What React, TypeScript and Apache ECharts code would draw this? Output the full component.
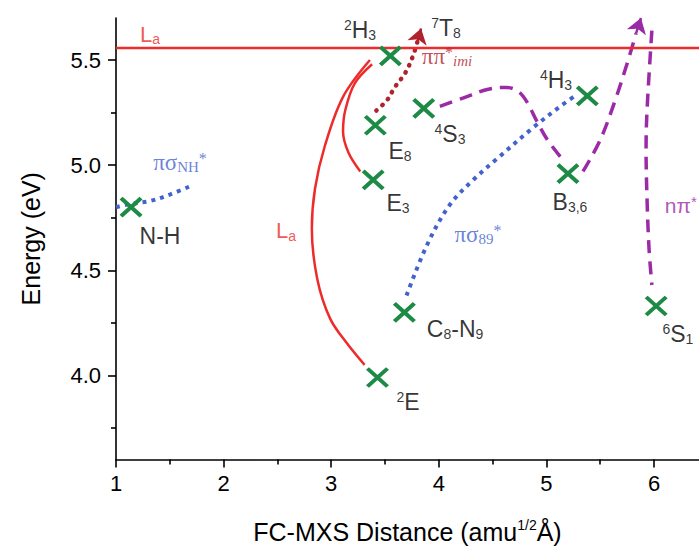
import React, { useEffect, useRef } from 'react';
import * as echarts from 'echarts';

// ---- axes ----
const X_MIN = 1;
const X_MAX = 6.418;
const Y_MIN = 3.6;
const Y_MAX = 5.7;
const xMajor = [1, 2, 3, 4, 5, 6];
const xMinor = [1.5, 2.5, 3.5, 4.5, 5.5];
const yMajor = [4.0, 4.5, 5.0, 5.5];
const yMinor = [3.75, 4.25, 4.75, 5.25];

// ---- states (green crosses) ----
const stateNames = ['N-H', '2H3', 'E8', 'E3', '4S3', '4H3', 'B3,6', 'C8-N9', '2E', '6S1'];
const stateX = [1.14, 3.55, 3.41, 3.39, 3.86, 5.38, 5.20, 3.68, 3.43, 6.02];
const stateY = [4.80, 5.52, 5.19, 4.93, 5.27, 5.33, 4.96, 4.30, 3.99, 4.33];

// ---- La level ----
const laLevel = 5.56;

// ---- curves ----
const piSigmaNH = [[1.0, 4.80], [1.13, 4.815], [1.32, 4.83], [1.50, 4.86], [1.69, 4.90]];
const laOuter = [[3.36, 5.50], [3.11, 5.325], [2.94, 5.09], [2.85, 4.89], [2.82, 4.70], [2.87, 4.46], [2.99, 4.27], [3.15, 4.15], [3.31, 4.05]];
const laInner = [[3.38, 5.48], [3.22, 5.39], [3.13, 5.26], [3.11, 5.16], [3.16, 5.06], [3.27, 4.97]];
const piPiImi = [[3.42, 5.26], [3.52, 5.31], [3.59, 5.37], [3.69, 5.44], [3.76, 5.52], [3.80, 5.585], [3.835, 5.65]];
const piSigma89 = [[3.70, 4.38], [3.89, 4.62], [4.10, 4.81], [4.32, 4.93], [4.54, 5.03], [4.88, 5.18], [5.13, 5.28], [5.28, 5.335]];
const nPiHump = [[4.01, 5.28], [4.23, 5.32], [4.45, 5.36], [4.63, 5.37], [4.74, 5.35], [4.82, 5.30], [4.91, 5.21], [5.01, 5.12], [5.13, 5.04]];
const nPiRise = [[5.34, 4.97], [5.50, 5.12], [5.64, 5.31], [5.76, 5.50], [5.833, 5.627], [5.879, 5.70]];
const nPiDrop = [[5.98, 5.64], [5.935, 5.26], [5.926, 5.075], [5.935, 4.84], [5.954, 4.60], [5.98, 4.43]];

// ---- annotation texts ----
const labelText = [
  '{r|L}{rs|a}',
  '{kp|2}{k|H}{ks|3}',
  '{kp|7}{k|T}{ks|8}',
  '{d|ππ}{dp|*}{di|imi}',
  '{kp|4}{k|H}{ks|3}',
  '{k|E}{ks|8}',
  '{kp|4}{k|S}{ks|3}',
  '{k|E}{ks|3}',
  '{k|B}{ks|3,6}',
  '{b|πσ}{bs|NH}{bp|*}',
  '{k|N-H}',
  '{r|L}{rs|a}',
  '{b|πσ}{bs|89}{bp|*}',
  '{p|nπ}{pp|*}',
  '{k|C}{ks|8}{k|-N}{ks|9}',
  '{kp|6}{k|S}{ks|1}',
  '{kp|2}{k|E}',
];
const labelX = [1.316, 3.268, 4.067, 4.076, 5.089, 3.639, 4.104, 3.621, 5.219, 1.595, 1.409, 2.58, 4.364, 6.095, 4.151, 6.074, 3.714];
const labelY = [5.623, 5.642, 5.651, 5.519, 5.406, 5.066, 5.146, 4.821, 4.825, 5.014, 4.665, 4.689, 4.670, 4.807, 4.222, 4.198, 3.873];
const labelLeftAligned = [false, false, false, false, false, false, false, false, false, false, false, false, false, true, false, true, false];

const RED = '#ee2b2b';
const GREEN = '#1d8a45';
const BLUE = '#4262cf';
const PURPLE = '#9b2aa6';
const DARKRED = '#b0222c';
const SANS = '"Liberation Sans", Arial, Helvetica, sans-serif';
const SERIF = '"Liberation Serif", "Times New Roman", serif';

function smoothLine(data: number[][], color: string, width: number, type: any, cap: string = 'butt') {
  return {
    type: 'line',
    data,
    smooth: 0.35,
    symbol: 'none',
    clip: false,
    silent: true,
    z: 2,
    lineStyle: { color, width, type, cap },
  };
}

function arrowHead(data: number[][], color: string) {
  return {
    type: 'lines',
    coordinateSystem: 'cartesian2d',
    clip: false,
    silent: true,
    z: 3,
    symbol: ['none', 'arrow'],
    symbolSize: 15,
    lineStyle: { color, width: 2.5, opacity: 1, curveness: 0 },
    data: [{ coords: data.slice(-2) }],
  };
}

function sub(color: string, family: string, extra: any = {}) {
  return { fontSize: 14, fontFamily: family, color, verticalAlign: 'bottom', lineHeight: 6, ...extra };
}
function sup(color: string, family: string, extra: any = {}) {
  return { fontSize: 14, fontFamily: family, color, verticalAlign: 'top', lineHeight: 6, ...extra };
}

const rich: any = {
  k: { fontSize: 23, fontFamily: SANS, color: '#000', lineHeight: 24 },
  ks: sub('#000', SANS),
  kp: sup('#000', SANS),
  r: { fontSize: 22, fontFamily: SANS, color: RED, lineHeight: 24 },
  rs: sub(RED, SANS),
  b: { fontSize: 23, fontFamily: SERIF, color: BLUE, lineHeight: 24 },
  bs: sub(BLUE, SERIF, { fontSize: 15 }),
  bp: sup(BLUE, SERIF, { fontSize: 16 }),
  d: { fontSize: 23, fontFamily: SERIF, color: DARKRED, lineHeight: 24 },
  dp: sup(DARKRED, SERIF, { fontSize: 16 }),
  di: sub(DARKRED, SERIF, { fontStyle: 'italic', fontSize: 15 }),
  p: { fontSize: 21, fontFamily: SANS, color: PURPLE, lineHeight: 24 },
  pp: sup(PURPLE, SANS, { fontSize: 15 }),
};

export default function App() {
  const ref = useRef<HTMLDivElement>(null);
  useEffect(() => {
    if (!ref.current) return;
    const chart = echarts.init(ref.current, null, { renderer: 'svg' });
    const axisLineStyle = { color: '#000', width: 1.6 };
    const option: any = {
      animation: false,
      backgroundColor: '#fff',
      grid: { left: 116, right: 0, top: 18, bottom: 87, containLabel: false },
      xAxis: [
        {
          type: 'value', min: X_MIN, max: X_MAX, position: 'bottom',
          axisLine: { show: true, lineStyle: axisLineStyle },
          axisTick: { show: true, customValues: xMajor, length: 8, lineStyle: axisLineStyle },
          axisLabel: { customValues: xMajor, fontSize: 22, color: '#000', margin: 13, fontFamily: SANS, formatter: (v: number) => String(Math.round(v)) },
          splitLine: { show: false },
          name: '{n|FC-MXS Distance (amu}{s|1/2}{n|Å)}',
          nameLocation: 'middle',
          nameGap: 58,
          nameTextStyle: {
            rich: {
              n: { fontSize: 25, fontFamily: SANS, color: '#000', lineHeight: 28 },
              s: { fontSize: 14, fontFamily: SANS, color: '#000', verticalAlign: 'top', lineHeight: 8 },
            },
          },
        },
        {
          type: 'value', min: X_MIN, max: X_MAX, position: 'bottom',
          axisLine: { show: false },
          axisTick: { show: true, customValues: xMinor, length: 5, lineStyle: axisLineStyle },
          axisLabel: { show: false },
          splitLine: { show: false },
        },
      ],
      yAxis: [
        {
          type: 'value', min: Y_MIN, max: Y_MAX, position: 'left',
          axisLine: { show: true, lineStyle: axisLineStyle },
          axisTick: { show: true, customValues: yMajor, length: 8, lineStyle: axisLineStyle },
          axisLabel: { customValues: yMajor, fontSize: 22, color: '#000', margin: 15, fontFamily: SANS, formatter: (v: number) => v.toFixed(1) },
          splitLine: { show: false },
          name: 'Energy (eV)',
          nameLocation: 'middle',
          nameGap: 73,
          nameTextStyle: { fontSize: 25, fontFamily: SANS, color: '#000' },
        },
        {
          type: 'value', min: Y_MIN, max: Y_MAX, position: 'left',
          axisLine: { show: false },
          axisTick: { show: true, customValues: yMinor, length: 5, lineStyle: axisLineStyle },
          axisLabel: { show: false },
          splitLine: { show: false },
        },
      ],
      series: [
        {
          type: 'line', data: [], symbol: 'none', silent: true,
          markLine: {
            silent: true, symbol: 'none', label: { show: false },
            lineStyle: { color: RED, width: 2.4, type: 'solid' },
            data: [{ yAxis: laLevel }],
          },
        },
        smoothLine(piSigmaNH, BLUE, 4, [4, 5]),
        smoothLine(laOuter, RED, 2.5, 'solid'),
        smoothLine(laInner, RED, 2.5, 'solid'),
        smoothLine(piPiImi.slice(0, -1), DARKRED, 4.5, [0.5, 7.5], 'round'),
        arrowHead(piPiImi, DARKRED),
        smoothLine(piSigma89, BLUE, 4, [4, 5]),
        smoothLine(nPiHump, PURPLE, 3.5, [13, 8]),
        smoothLine(nPiRise.slice(0, -1), PURPLE, 3.5, [13, 8]),
        arrowHead(nPiRise, PURPLE),
        smoothLine(nPiDrop, PURPLE, 3.5, [13, 8]),
        {
          type: 'scatter',
          name: 'states',
          data: stateX.map((x, i) => ({ value: [x, stateY[i]], name: stateNames[i] })),
          symbol: 'path://M0,0L20,20M20,0L0,20',
          symbolSize: [20, 18],
          itemStyle: { color: 'rgba(0,0,0,0)', borderColor: GREEN, borderWidth: 4, opacity: 1 },
          silent: true,
          z: 5,
        },
        {
          type: 'scatter',
          name: 'labels',
          symbolSize: 1,
          itemStyle: { color: 'rgba(0,0,0,0)' },
          silent: true,
          z: 6,
          data: labelX.map((x, i) => ({
            value: [x, labelY[i]],
            label: labelLeftAligned[i] ? { position: 'right', distance: 0 } : { position: 'inside' },
          })),
          label: {
            show: true,
            position: 'inside',
            formatter: (p: any) => labelText[p.dataIndex],
            rich,
          },
        },
      ],
    };
    chart.setOption(option);
    return () => chart.dispose();
  }, []);
  return <div ref={ref} style={{ position: 'fixed', left: 0, top: 0, width: 699, height: 549, background: '#fff' }} />;
}
